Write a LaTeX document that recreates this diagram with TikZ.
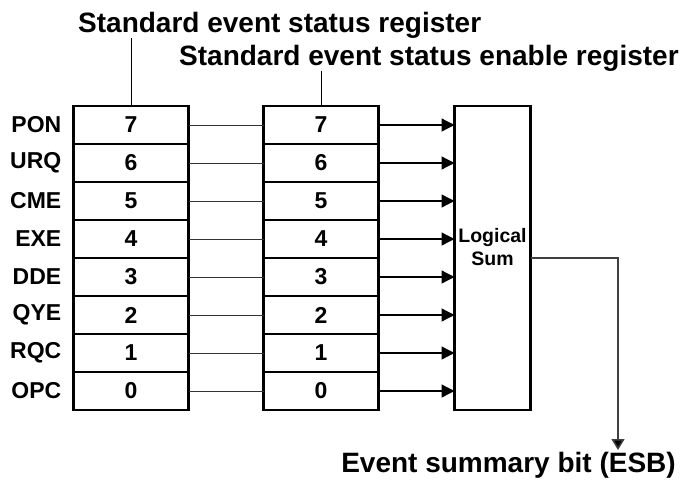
\documentclass[tikz,border=0pt]{standalone}
\usepackage{fontspec}
\setmainfont{Liberation Sans}
\usetikzlibrary{arrows.meta, positioning}
\tikzset{
    cell/.style={
        draw, rectangle, line width=2.2pt, minimum width=115pt, minimum height=38pt, outer sep=0pt, align=center, font=\bfseries\fontsize{23}{26}\selectfont
    },
    bitname/.style={
        inner sep=0pt, font=\bfseries\fontsize{23}{26}\selectfont
    },
    sumbox/.style={
        draw, rectangle, line width=2.2pt, minimum width=76pt, minimum height=304pt, outer sep=0pt
    },
    sumtext/.style={
        align=center, inner sep=0pt, font=\bfseries\fontsize{19.5}{23}\selectfont
    },
    heading/.style={
        inner sep=0pt, font=\bfseries\fontsize{28}{32}\selectfont
    },
    lead/.style={
        line width=1pt
    },
    link/.style={
        line width=1pt, black!80
    },
    arrow/.style={
        line width=1.3pt, -{Triangle[length=13pt, width=13pt]}
    },
    esbarrow/.style={
        line width=1.5pt, black!75, -{Triangle[length=11pt, width=13pt, fill=black]}
    }
}

\begin{document}
\begin{tikzpicture}[x=1pt, y=1pt, node distance=0pt]
    \useasboundingbox (0,0) rectangle (680,-480);

    % status register
    \node (r7) [cell] at (131,-125) {7};
    \node (r6) [cell, below=of r7] {6};
    \node (r5) [cell, below=of r6] {5};
    \node (r4) [cell, below=of r5] {4};
    \node (r3) [cell, below=of r4] {3};
    \node (r2) [cell, below=of r3] {2};
    \node (r1) [cell, below=of r2] {1};
    \node (r0) [cell, below=of r1] {0};

    % enable register
    \node (e7) [cell, right=75pt of r7] {7};
    \node (e6) [cell, below=of e7] {6};
    \node (e5) [cell, below=of e6] {5};
    \node (e4) [cell, below=of e5] {4};
    \node (e3) [cell, below=of e4] {3};
    \node (e2) [cell, below=of e3] {2};
    \node (e1) [cell, below=of e2] {1};
    \node (e0) [cell, below=of e1] {0};

    % logical sum
    \node (sum) [sumbox, below right=0pt and 76pt of e7.north east] {};
    \node (sumlabel) [sumtext] at ([yshift=11pt]sum.center) {Logical\\Sum};

    % bit names
    \node (pon) [bitname, left=12pt of r7] {PON};
    \node (urq) [bitname, left=12pt of r6] {URQ};
    \node (cme) [bitname, left=12pt of r5] {CME};
    \node (exe) [bitname, left=12pt of r4] {EXE};
    \node (dde) [bitname, left=12pt of r3] {DDE};
    \node (qye) [bitname, left=12pt of r2] {QYE};
    \node (rqc) [bitname, left=12pt of r1] {RQC};
    \node (opc) [bitname, left=12pt of r0] {OPC};

    % headings
    \node (head1) [heading, anchor=base west] at (78,-32) {Standard event status register};
    \node (head2) [heading, anchor=base west] at (179,-65) {Standard event status enable register};
    \node (esb) [heading, anchor=base east] at (676,-472) {Event summary bit (ESB)};
    \coordinate (esbin) at (618,-450);

    % connectors
    \draw [lead] (r7.north) -- (r7.north |- head1.south);
    \draw [lead] (e7.north) -- (e7.north |- head2.south);
    \draw [link] (r7) -- (e7);
    \draw [link] (r6) -- (e6);
    \draw [link] (r5) -- (e5);
    \draw [link] (r4) -- (e4);
    \draw [link] (r3) -- (e3);
    \draw [link] (r2) -- (e2);
    \draw [link] (r1) -- (e1);
    \draw [link] (r0) -- (e0);
    \draw [arrow] (e7.east) -- (e7.east -| sum.west);
    \draw [arrow] (e6.east) -- (e6.east -| sum.west);
    \draw [arrow] (e5.east) -- (e5.east -| sum.west);
    \draw [arrow] (e4.east) -- (e4.east -| sum.west);
    \draw [arrow] (e3.east) -- (e3.east -| sum.west);
    \draw [arrow] (e2.east) -- (e2.east -| sum.west);
    \draw [arrow] (e1.east) -- (e1.east -| sum.west);
    \draw [arrow] (e0.east) -- (e0.east -| sum.west);
    \draw [esbarrow] (sum.east) -| (esbin);

\end{tikzpicture}
\end{document}
